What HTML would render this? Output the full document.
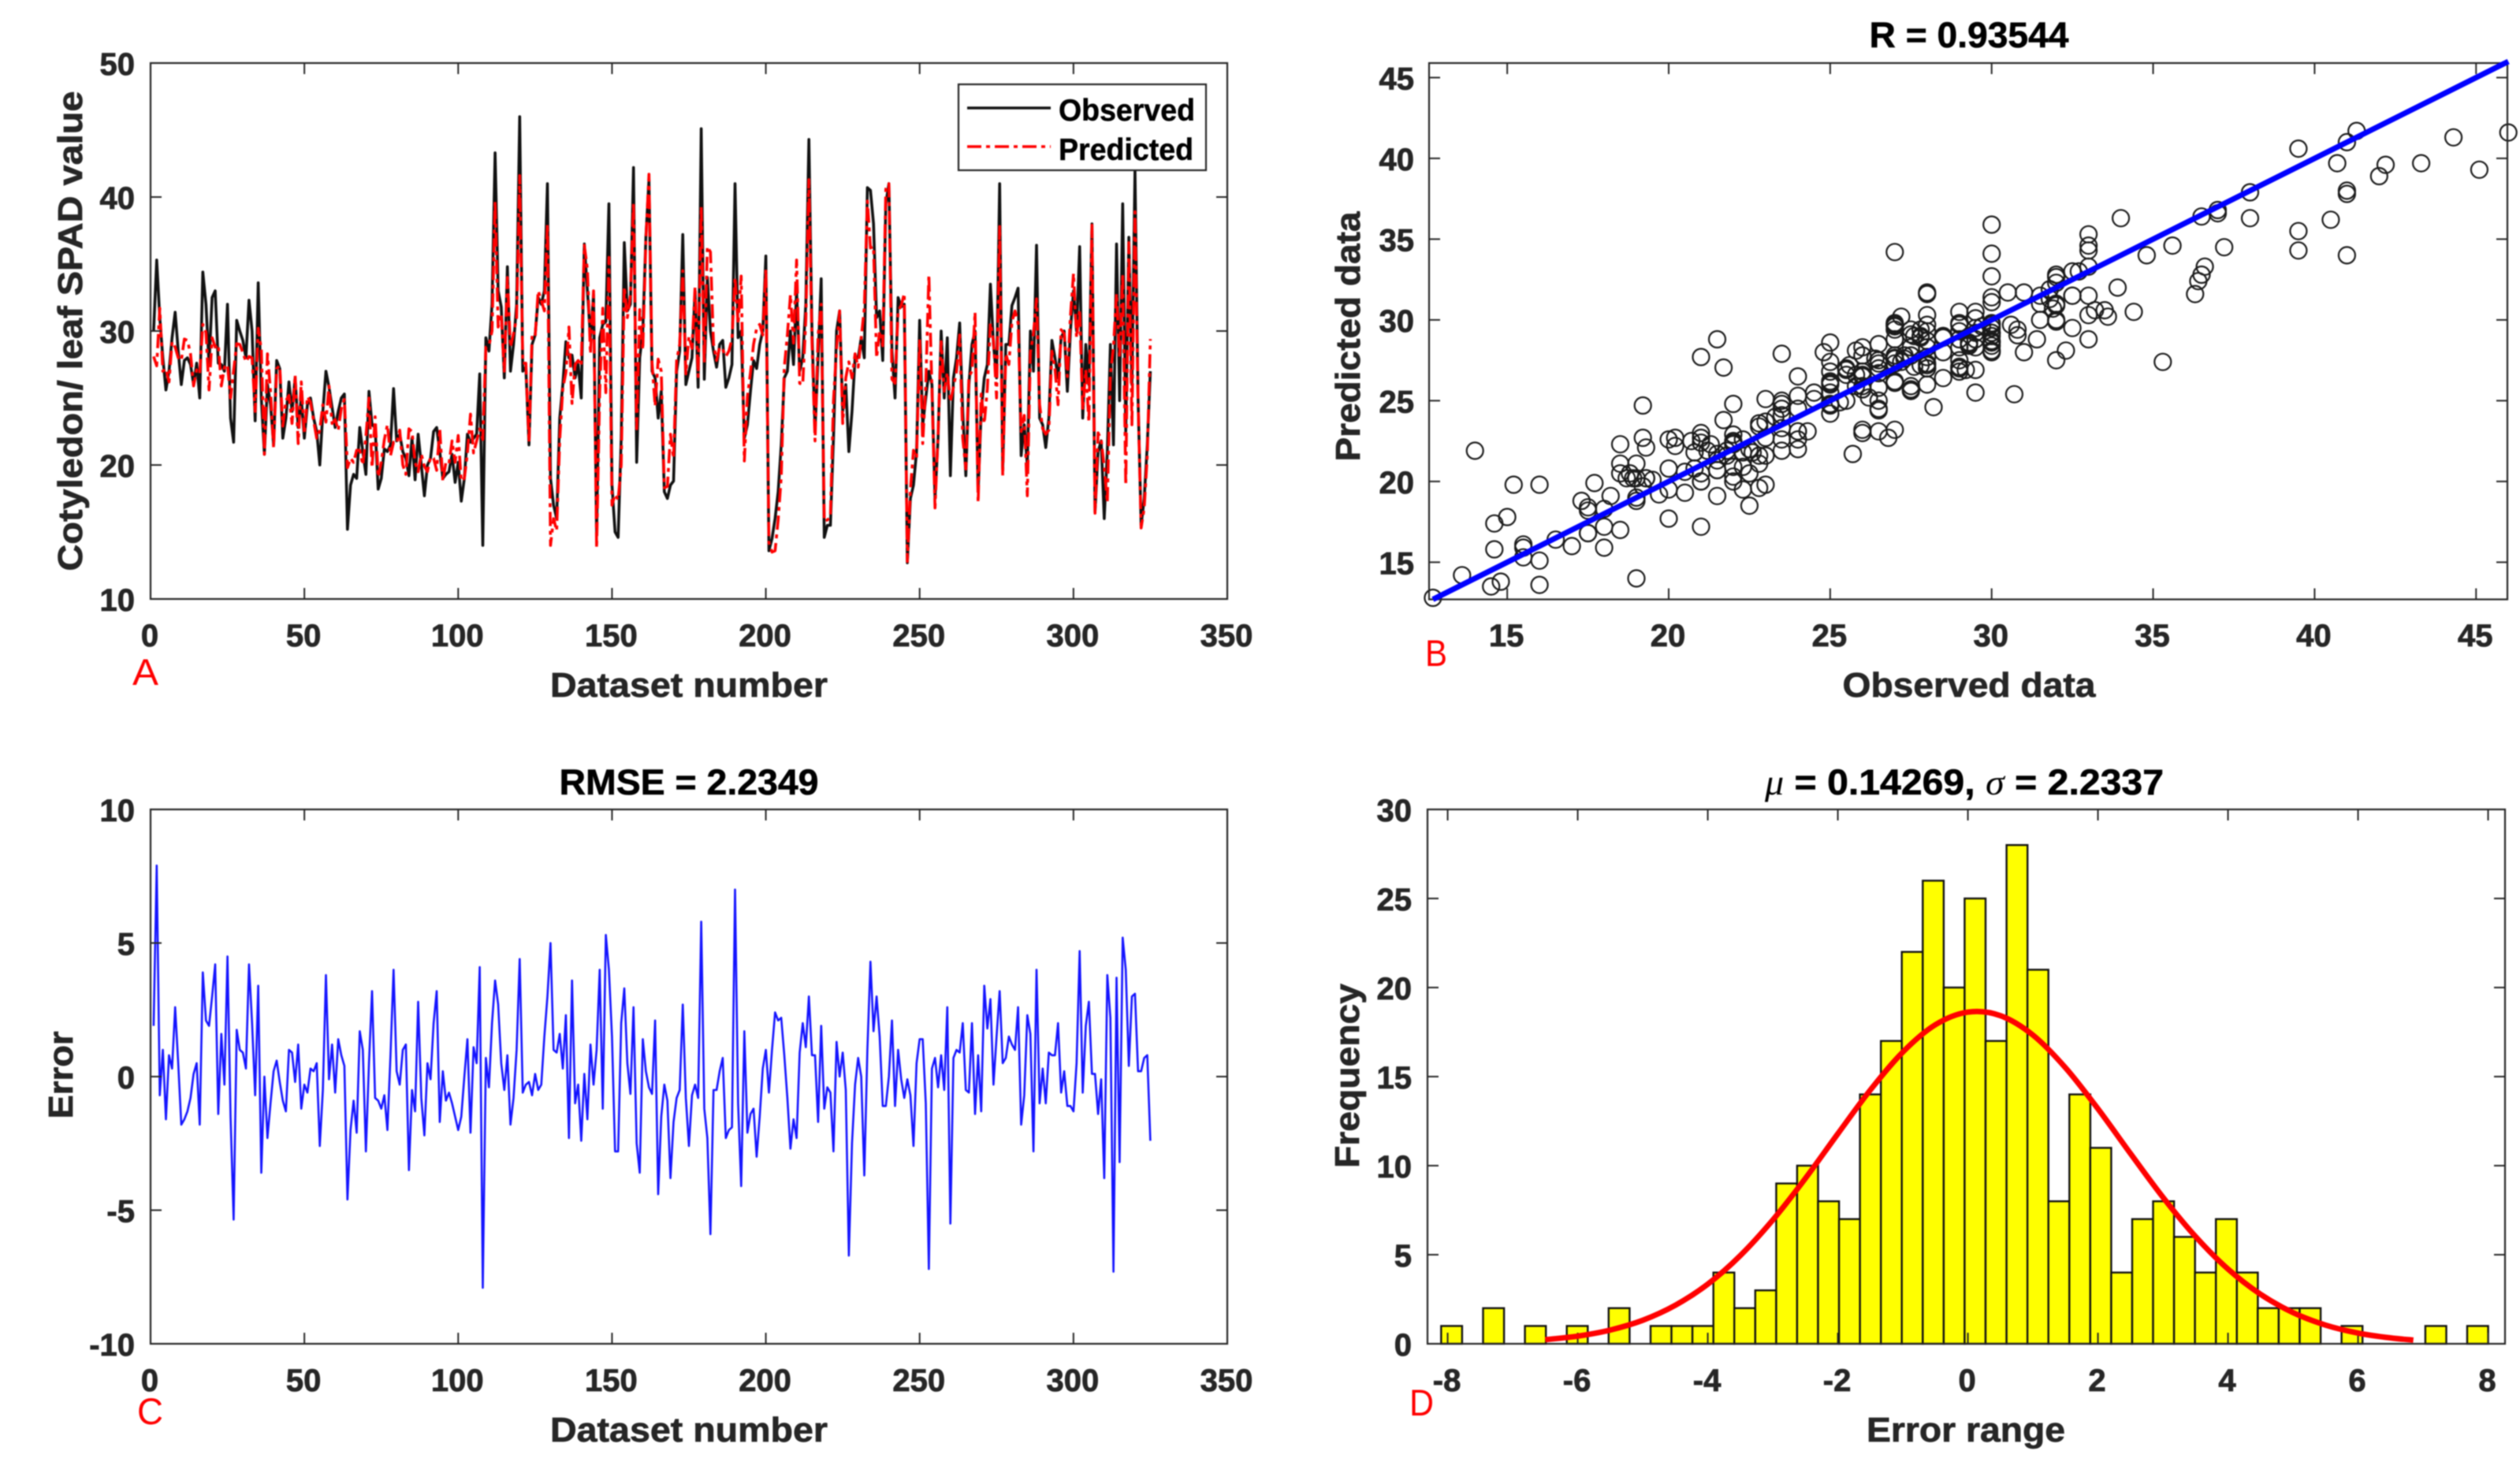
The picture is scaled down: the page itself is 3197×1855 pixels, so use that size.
<!DOCTYPE html>
<html lang="en">
<head>
<meta charset="utf-8">
<title>Observed versus predicted SPAD value charts</title>
<style>
html,body{margin:0;padding:0;background:#fff;width:3197px;height:1855px;overflow:hidden}
svg{display:block;filter:blur(0.7px)}
text{font-family:"Liberation Sans",Arial,sans-serif}
.lab{font-weight:bold;fill:#262626;font-size:44px;stroke:#262626;stroke-width:0.7px}
.ttl{font-weight:bold;fill:#000;font-size:45px;stroke:#000;stroke-width:0.6px}
.tk{font-weight:bold;fill:#262626;font-size:40px;stroke:#262626;stroke-width:0.8px}
.pl{fill:#ff0000;font-size:47px}
.leg{font-weight:bold;fill:#000;font-size:39px;stroke:#000;stroke-width:0.5px}
</style>
</head>
<body>
<svg id="figure" xmlns="http://www.w3.org/2000/svg" width="3197" height="1855" viewBox="0 0 3197 1855">
<rect x="0" y="0" width="3197" height="1855" fill="#ffffff"/>
<g id="layer-marks"></g>
<g id="layer-axes"></g>
<g id="layer-top"></g>

<text class="lab" transform="translate(104 420) rotate(-90)" text-anchor="middle" textLength="609" lengthAdjust="spacingAndGlyphs">Cotyledon/ leaf SPAD value</text>
<text class="lab" x="874" y="884" text-anchor="middle" textLength="352" lengthAdjust="spacingAndGlyphs">Dataset number</text>
<text class="pl" x="168" y="869" textLength="33" lengthAdjust="spacingAndGlyphs">A</text>

<text class="ttl" x="2498" y="60" text-anchor="middle" textLength="253" lengthAdjust="spacingAndGlyphs">R = 0.93544</text>
<text class="lab" transform="translate(1725 427) rotate(-90)" text-anchor="middle" textLength="317" lengthAdjust="spacingAndGlyphs">Predicted data</text>
<text class="lab" x="2498" y="884" text-anchor="middle" textLength="321" lengthAdjust="spacingAndGlyphs">Observed data</text>
<text class="pl" x="1808" y="845" textLength="28" lengthAdjust="spacingAndGlyphs">B</text>

<text class="ttl" x="874" y="1008" text-anchor="middle" textLength="329" lengthAdjust="spacingAndGlyphs">RMSE = 2.2349</text>
<text class="lab" transform="translate(92 1364) rotate(-90)" text-anchor="middle" textLength="111" lengthAdjust="spacingAndGlyphs">Error</text>
<text class="lab" x="874" y="1829" text-anchor="middle" textLength="352" lengthAdjust="spacingAndGlyphs">Dataset number</text>
<text class="pl" x="174" y="1807" textLength="33" lengthAdjust="spacingAndGlyphs">C</text>

<text class="ttl" x="2239" y="1008" textLength="506" lengthAdjust="spacingAndGlyphs"><tspan style="font-family:'Liberation Serif',serif;font-style:italic;font-weight:normal;stroke:none">μ</tspan> = 0.14269, <tspan style="font-family:'Liberation Serif',serif;font-style:italic;font-weight:normal;stroke:none">σ</tspan> = 2.2337</text>
<text class="lab" transform="translate(1724 1365) rotate(-90)" text-anchor="middle" textLength="234" lengthAdjust="spacingAndGlyphs">Frequency</text>
<text class="lab" x="2494" y="1829" text-anchor="middle" textLength="252" lengthAdjust="spacingAndGlyphs">Error range</text>
<text class="pl" x="1788" y="1796" textLength="31" lengthAdjust="spacingAndGlyphs">D</text>
</svg>

<script>
const observedValues = [30,35.3,31,28,25.6,27,29.5,31.4,28.5,26,27.8,28,27.5,26,27.6,25,34.4,32,27.5,32.5,33,27.6,27.5,27,32,23.5,21.7,30.8,30,29.3,28,32.3,30,23.3,33.6,25,20.8,26,24.5,21.5,27.8,27.2,22,23.5,26.2,24,26.5,22.8,25,22,24.5,25,23.5,22.5,20,24,27,25.8,24.3,22.8,24,25,25.3,15.2,18.5,19.3,19,22.8,21,19.3,25.5,23,22.8,18.2,19,21.2,21,21.5,25.7,21.8,22.3,21,20.5,19.2,22,18.9,22.3,20,17.7,20,20.5,22.5,22.8,21,19,19.3,19.5,20.8,18.7,20.2,17.3,19,22.3,21.7,22,22.3,26.8,14,29.5,28.5,32,43.3,33,31.8,26.5,34.8,27,29,32,46,27,27.3,21.5,29,29.7,32.5,32,33,41,19,17,16,23.5,26,29.2,28,28.2,26.5,27.5,25,36.5,33,29.5,32.7,14.8,29.5,30.5,30.7,39.5,18.5,15,14.6,22,36.6,31.5,32,42.2,20.2,28,30,37,41.3,27,26.5,23.5,25.5,18,17.5,18.5,18.8,27,28.5,37.2,26,27,28,33,25.8,45.1,26.4,34,30,28.5,27.3,29,29.3,25.8,26.5,27.5,41,29.5,30,22,23,25.5,27.8,27.2,29,30,35.6,13.6,14.5,16,18,21.5,26.5,27,30,27.5,33,27,28,32,44.3,30,22.6,28,33.9,14.6,15.5,15.5,22,30,31.5,24,26,21,24,28,28,29.5,28,40.7,40.5,38,31,31.5,27.8,39.5,41,28.5,25,32.5,31.8,32,12.7,17.5,18.5,21,30.8,23,25,27,26,17.5,22,30,25,29.5,19.2,26.5,28,30.6,24,19.2,26,29,30,18,24,26.5,27.5,33.5,29,26.5,41,19.7,29,29,31.9,32.5,33.2,20.7,23,20,30,27,36.4,23.5,23,21.3,23.5,29.3,28,26.5,29.5,30,25.5,30,33,30,36.3,23.5,29,26,38,16.5,21,21.8,16,21,29,21.5,36.5,24.8,39.5,22.5,37,26,42,25,15.5,17.5,21.5,27];
const predictedValues = [28.1,27.4,31.7,27,27.2,26.2,29.2,28.8,28,27.8,29.4,29.3,28.3,25.9,27.1,26.8,30.5,29.9,25.6,29.5,28.8,29,25.9,27.3,27.5,25,27.05,29.05,29,28.4,27.7,28.1,28,24,30.2,28.6,20.8,28.3,25.5,21.3,27.2,27.4,22.9,24.8,25.2,23.1,26.7,21.6,26.2,22.3,25.1,24.7,23.3,22,22.6,24.5,23.2,25.9,23.1,23.4,22.6,24.2,24.9,19.8,20.5,20.2,21.1,21.1,20,22.1,25,19.8,23.6,19.1,20.2,21.9,23,20.7,21.7,21.6,22.6,20,19.3,22.7,22.5,20.2,19.5,20.8,19.9,19.5,20.6,20.5,19.6,22.7,18.8,20.2,20.1,21.8,20.2,22.2,18.8,19,20.9,23.8,20.9,21.8,22.7,21.9,28.8,28.9,30,39.7,30.3,31.3,27,34,28.8,29.8,31,41.6,27.6,27.6,21.7,29.7,29.6,33,32.3,31.5,38,14,16,15.1,21.9,25.7,26.9,30.3,24.6,27.5,27.8,27.4,36.4,34.6,28.3,33,13.8,25.5,31.7,25.4,35.5,17,17.8,17.4,20,33.3,31,32.65,39.6,22.7,31.6,28.6,36.8,41.7,27.65,24.4,27.9,27,18.3,18.4,22.3,20.5,27.8,29,34.5,26.8,29.6,28.7,33.3,26.6,39.3,27.6,36.3,35.9,29,27.8,28.8,28.6,28.1,28.5,29.4,34,30.5,34.1,20.3,25.1,26.9,29,30.2,30.5,29.7,34.6,14.2,13.5,13.6,15.9,19.1,27.3,29.7,32.7,29.1,35.3,26.1,26,30.9,41.3,29.2,21.8,29.7,32,15.8,15.9,16.1,24.8,28.7,31.5,23.1,26.5,27.7,26.5,28.3,27.3,29.5,31.7,39.7,36.2,36.3,28,30,28.9,40.6,41,26.4,26.1,31.5,31.9,32.8,12.8,18.2,21.1,20.5,29.4,21.6,26,34.2,25.7,16.8,22.4,29.2,25.5,26.9,24.7,25.8,27,29.7,22,19.7,26.6,27,31.4,17.2,25.3,23.1,25.7,30.6,29.3,25,37.8,19.2,28.3,27.5,30.7,31.5,30.6,22.5,23.7,17.7,28.4,29.8,32.4,24.5,22.7,22.3,22.6,28.5,27.2,24.5,30.1,29.8,26.6,31.1,34.3,29.5,31.6,24.1,27.1,23.2,37.9,16.4,22.4,21.9,19.8,17.2,26.8,28.8,32.8,28,34.3,18.5,36.6,23,38.9,24.8,15.3,16.8,20.7,29.4];
const errorValues = [1.9,7.9,-0.7,1,-1.6,0.8,0.3,2.6,0.5,-1.8,-1.6,-1.3,-0.8,0.1,0.5,-1.8,3.9,2.1,1.9,3,4.2,-1.4,1.6,-0.3,4.5,-1.5,-5.35,1.75,1,0.9,0.3,4.2,2,-0.7,3.4,-3.6,0,-2.3,-1,0.2,0.6,-0.2,-0.9,-1.3,1,0.9,-0.2,1.2,-1.2,-0.3,-0.6,0.3,0.2,0.5,-2.6,-0.5,3.8,-0.1,1.2,-0.6,1.4,0.8,0.4,-4.6,-2,-0.9,-2.1,1.7,1,-2.8,0.5,3.2,-0.8,-0.9,-1.2,-0.7,-2,0.8,4,0.2,-0.3,1,1.2,-3.5,-0.5,-1.3,2.8,-0.8,-2.2,0.5,-0.1,2,3.2,-1.7,0.2,-0.9,-0.6,-1,-1.5,-2,-1.5,0,1.4,-2.1,1.1,0.5,4.1,-7.9,0.7,-0.4,2,3.6,2.7,0.5,-0.5,0.8,-1.8,-0.8,1,4.4,-0.6,-0.3,-0.2,-0.7,0.1,-0.5,-0.3,1.5,3,5,1,0.9,1.6,0.3,2.3,-2.3,3.6,-1,-0.3,-2.4,0.1,-1.6,1.2,-0.3,1,4,-1.2,5.3,4,1.5,-2.8,-2.8,2,3.3,0.5,-0.65,2.6,-2.5,-3.6,1.4,0.2,-0.4,-0.65,2.1,-4.4,-1.5,-0.3,-0.9,-3.8,-1.7,-0.8,-0.5,2.7,-0.8,-2.6,-0.7,-0.3,-0.8,5.8,-1.2,-2.3,-5.9,-0.5,-0.5,0.2,0.7,-2.3,-2,-1.9,7,-1,-4.1,1.7,-2.1,-1.4,-1.2,-3,-1.5,0.3,1,-0.6,1,2.4,2.1,2.2,0.8,-0.8,-2.7,-1.6,-2.3,0.9,2,1.1,3,0.8,0.8,-1.7,1.9,-1.2,-0.4,-0.6,-2.8,1.3,0,0.9,-0.5,-6.7,-2.5,-0.3,0.7,0,-3.7,1,4.3,1.7,3,1.5,-1.1,-1.1,0,2.1,-1.1,1,-0.1,-0.8,-0.1,-0.7,-2.6,0.5,1.4,1.4,-1,-7.2,0.3,0.7,-0.4,0.8,-0.5,2.6,-5.5,0.7,1,0.9,2,-0.5,-0.6,2,-1.4,0.8,-1.3,3.4,1.8,2.9,-0.3,1.5,3.2,0.5,0.7,1.5,1.2,1,2.6,-1.8,-0.7,2.3,1.6,-2.8,4,-1,0.3,-1,0.9,0.8,0.8,2,-0.6,0.2,-1.1,-1.1,-1.3,0.5,4.7,-0.6,1.9,2.8,0.1,0.1,-1.4,-0.1,-3.8,3.8,2.2,-7.3,3.7,-3.2,5.2,4,0.4,3,3.1,0.2,0.2,0.7,0.8,-2.4];
const histogramCounts = [1,0,2,0,1,0,1,0,2,0,1,1,1,4,2,3,9,10,8,7,14,17,22,26,20,25,17,28,21,8,14,11,4,7,8,6,4,7,4,2,2,2,0,1,0,0,0,1,0,1];
const histogramFirstEdge = -8.1;
const histogramBinWidth = 0.322;
const normalCurveX = [-6.5,-6,-5.5,-5,-4.5,-4,-3.5,-3,-2.5,-2,-1.5,-1,-0.5,0,0.5,1,1.5,2,2.5,3,3.5,4,4.5,5,5.5,6,6.5,6.85];
const normalCurveY = [0.23,0.43,0.77,1.32,2.16,3.35,4.95,6.95,9.28,11.79,14.25,16.38,17.91,18.62,18.42,17.33,15.5,13.19,10.68,8.22,6.02,4.19,2.78,1.75,1.05,0.6,0.33,0.21];
const regressionX = [12.7,46];
const regressionY = [12.7,46];
const datasetTicks = [0,50,100,150,200,250,300,350];
const spadTicks = [10,20,30,40,50];
const observedTicks = [15,20,25,30,35,40,45];
const predictedTicks = [15,20,25,30,35,40,45];
const errorTicks = [-10,-5,0,5,10];
const errorRangeTicks = [-8,-6,-4,-2,0,2,4,6,8];
const frequencyTicks = [0,5,10,15,20,25,30];

const NS = 'http://www.w3.org/2000/svg';
const marks = document.getElementById('layer-marks');
const axes = document.getElementById('layer-axes');
const top_ = document.getElementById('layer-top');

function scale(d0, d1, r0, r1) {
  return function (v) { return r0 + (v - d0) * (r1 - r0) / (d1 - d0); };
}
function make(tag, parent, attrs) {
  const el = document.createElementNS(NS, tag);
  for (const k in attrs) el.setAttribute(k, attrs[k]);
  parent.appendChild(el);
  return el;
}
function linePath(xs, ys, fx, fy) {
  let d = '';
  for (let i = 0; i < xs.length; i++) {
    d += (i ? 'L' : 'M') + fx(xs[i]).toFixed(1) + ' ' + fy(ys[i]).toFixed(1);
  }
  return d;
}
function smoothPath(xs, ys, fx, fy) {
  const px = xs.map(fx), py = ys.map(fy);
  let d = 'M' + px[0].toFixed(1) + ' ' + py[0].toFixed(1);
  for (let i = 0; i < px.length - 1; i++) {
    const a = Math.max(i - 1, 0), b = Math.min(i + 2, px.length - 1);
    const c1x = px[i] + (px[i + 1] - px[a]) / 6, c1y = py[i] + (py[i + 1] - py[a]) / 6;
    const c2x = px[i + 1] - (px[b] - px[i]) / 6, c2y = py[i + 1] - (py[b] - py[i]) / 6;
    d += 'C' + c1x.toFixed(1) + ' ' + c1y.toFixed(1) + ' ' + c2x.toFixed(1) + ' ' + c2y.toFixed(1) + ' ' + px[i + 1].toFixed(1) + ' ' + py[i + 1].toFixed(1);
  }
  return d;
}
function drawAxes(panel, box, fx, fy, xTicks, yTicks, xLabelY, yLabelX) {
  const g = make('g', axes, {});
  
  
  const frame = make('rect', g, { x: box.l, y: box.t, width: box.r - box.l, height: box.b - box.t, fill: 'none', stroke: '#262626', 'stroke-width': 2.2 });
  
  
  xTicks.forEach(function (v) {
    const x = fx(v);
    const t1 = make('line', g, { x1: x, x2: x, y1: box.b, y2: box.b - 14, stroke: '#262626', 'stroke-width': 2 });
    
    
    const t2 = make('line', g, { x1: x, x2: x, y1: box.t, y2: box.t + 14, stroke: '#262626', 'stroke-width': 2 });
    
    
    const lab = make('text', g, { x: x - 1, y: xLabelY, 'text-anchor': 'middle', class: 'tk' });
    
    
    lab.textContent = String(v);
  });
  yTicks.forEach(function (v) {
    const y = fy(v);
    const t1 = make('line', g, { x1: box.l, x2: box.l + 14, y1: y, y2: y, stroke: '#262626', 'stroke-width': 2 });
    
    
    const t2 = make('line', g, { x1: box.r, x2: box.r - 14, y1: y, y2: y, stroke: '#262626', 'stroke-width': 2 });
    
    
    const lab = make('text', g, { x: yLabelX, y: y + 15, 'text-anchor': 'end', class: 'tk' });
    
    
    lab.textContent = String(v);
  });
}

const indexValues = observedValues.map(function (_, i) { return i + 1; });

/* Panel A */
const boxA = { l: 191, r: 1557, t: 80, b: 760 };
const xA = scale(0, 350, boxA.l, boxA.r);
const yA = scale(10, 50, boxA.b, boxA.t);
const obsLine = make('path', marks, { d: linePath(indexValues, observedValues, xA, yA), fill: 'none', stroke: '#111111', 'stroke-width': 3.6, 'stroke-linejoin': 'round' });


const predLine = make('path', marks, { d: linePath(indexValues, predictedValues, xA, yA), fill: 'none', stroke: '#ff0000', 'stroke-width': 3.6, 'stroke-dasharray': '18 6 5 6', 'stroke-linejoin': 'round' });


drawAxes('panel-a', boxA, xA, yA, datasetTicks, spadTicks, 820, 171);

/* Legend */
const legend = make('g', top_, {});


const legendBox = make('rect', legend, { x: 1216, y: 107, width: 314, height: 109, fill: '#ffffff', stroke: '#262626', 'stroke-width': 2.2 });


const legendObs = make('line', legend, { x1: 1227, x2: 1333, y1: 137, y2: 137, stroke: '#111111', 'stroke-width': 3.6 });


const legendPred = make('line', legend, { x1: 1227, x2: 1333, y1: 186, y2: 186, stroke: '#ff0000', 'stroke-width': 3.6, 'stroke-dasharray': '18 6 5 6' });


const legendObsText = make('text', legend, { x: 1343, y: 153, class: 'leg', textLength: 173, lengthAdjust: 'spacingAndGlyphs' });


legendObsText.textContent = 'Observed';
const legendPredText = make('text', legend, { x: 1343, y: 203, class: 'leg', textLength: 171, lengthAdjust: 'spacingAndGlyphs' });


legendPredText.textContent = 'Predicted';

/* Panel B */
const boxB = { l: 1813, r: 3181, t: 80, b: 760.5 };
const xB = scale(12.58, 45.97, boxB.l, boxB.r);
const yB = scale(12.7, 45.9, boxB.b, boxB.t);
observedValues.forEach(function (v, i) {
  const c = make('circle', marks, { cx: xB(v).toFixed(1), cy: yB(predictedValues[i]).toFixed(1), r: 10.5, fill: 'none', stroke: '#1a1a1a', 'stroke-width': 2.2 });
  
  
});
drawAxes('panel-b', boxB, xB, yB, observedTicks, predictedTicks, 820, 1794);
const fitLine = make('path', top_, { d: linePath(regressionX, regressionY, xB, yB), fill: 'none', stroke: '#0000ff', 'stroke-width': 7 });



/* Panel C */
const boxC = { l: 191, r: 1557, t: 1027, b: 1705 };
const xC = scale(0, 350, boxC.l, boxC.r);
const yC = scale(-10, 10, boxC.b, boxC.t);
const errLine = make('path', marks, { d: linePath(indexValues, errorValues, xC, yC), fill: 'none', stroke: '#1414ff', 'stroke-width': 2.6, 'stroke-linejoin': 'round' });


drawAxes('panel-c', boxC, xC, yC, datasetTicks, errorTicks, 1765, 171);

/* Panel D */
const boxD = { l: 1811, r: 3178, t: 1027, b: 1705 };
const xD = scale(-8.31, 8.26, boxD.l, boxD.r);
const yD = scale(0, 30, boxD.b, boxD.t);
histogramCounts.forEach(function (count, i) {
  if (count <= 0) return;
  const x0 = xD(histogramFirstEdge + i * histogramBinWidth);
  const x1 = xD(histogramFirstEdge + (i + 1) * histogramBinWidth);
  const bar = make('rect', marks, { x: x0.toFixed(1), y: yD(count).toFixed(1), width: (x1 - x0).toFixed(1), height: (yD(0) - yD(count)).toFixed(1), fill: '#ffff00', stroke: '#111111', 'stroke-width': 2.4 });
  
  
});
drawAxes('panel-d', boxD, xD, yD, errorRangeTicks, frequencyTicks, 1765, 1791);
const curve = make('path', top_, { d: smoothPath(normalCurveX, normalCurveY, xD, yD), fill: 'none', stroke: '#ff0000', 'stroke-width': 7 });


</script>
</body>
</html>
